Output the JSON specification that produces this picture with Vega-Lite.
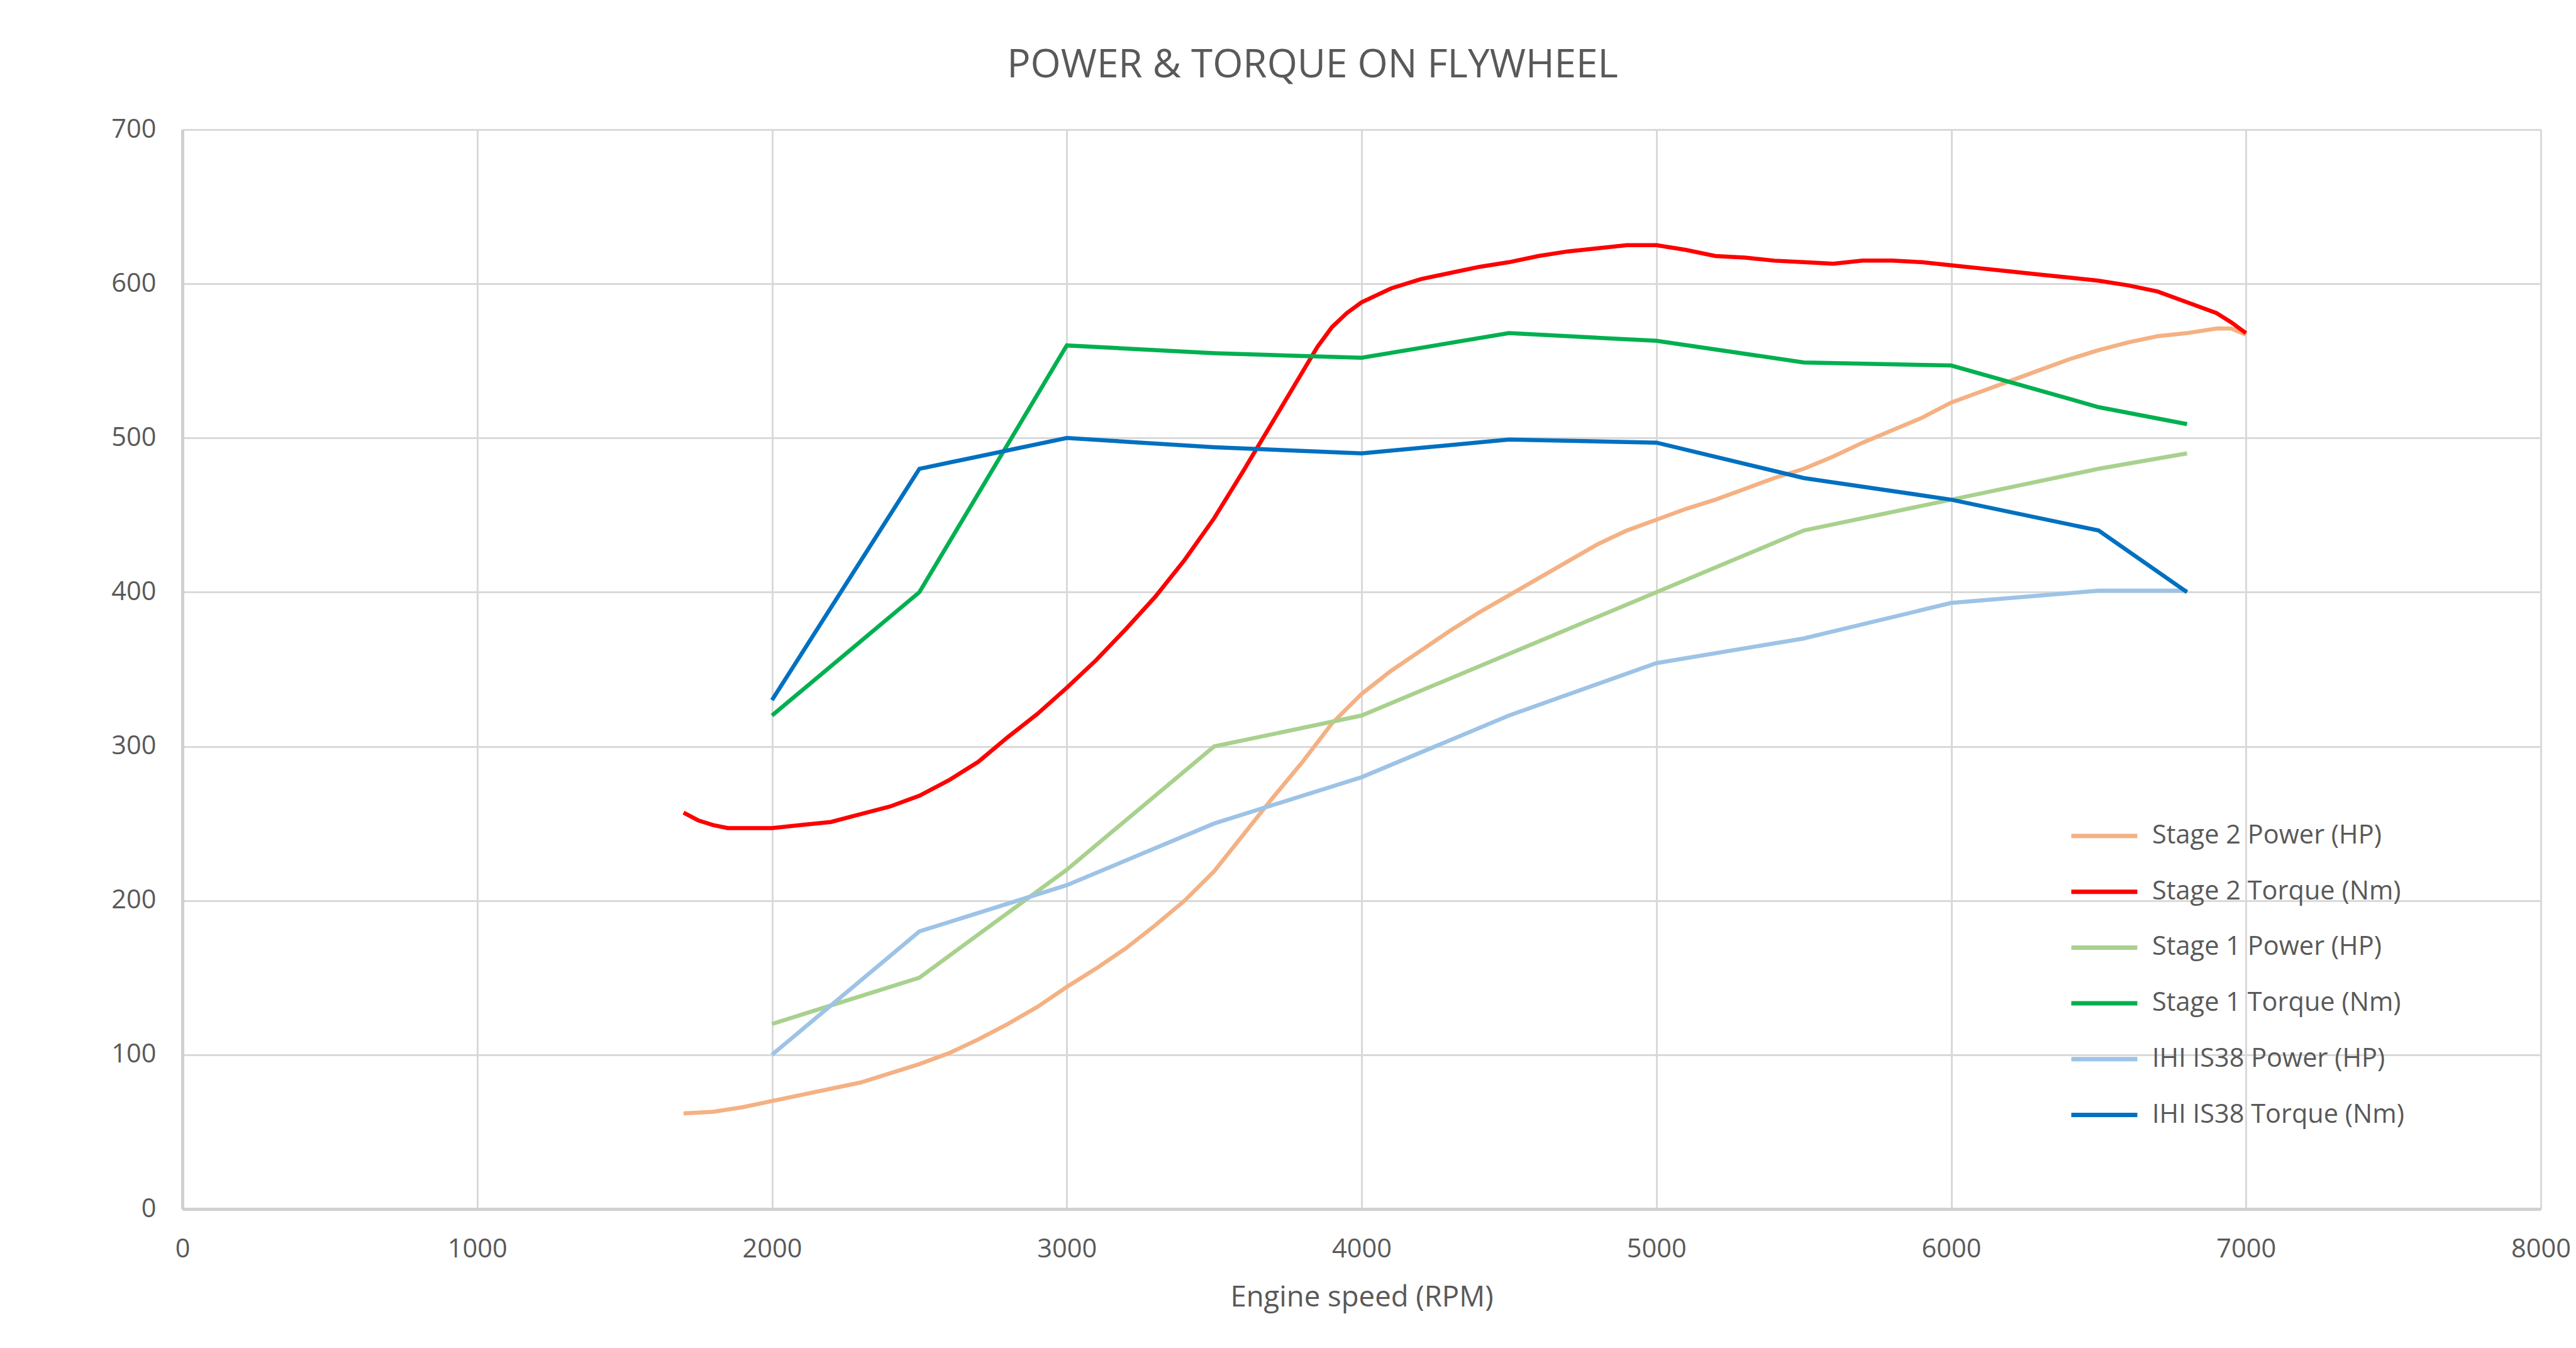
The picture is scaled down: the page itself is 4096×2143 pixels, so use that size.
{
  "$schema": "https://vega.github.io/schema/vega-lite/v6.json",
  "width": 3750,
  "height": 1716,
  "autosize": {"type": "none"},
  "padding": {"left": 290, "top": 206, "right": 56, "bottom": 221},
  "background": "white",
  "title": {
    "text": "POWER & TORQUE ON FLYWHEEL",
    "font": "Open Sans",
    "fontSize": 62,
    "fontWeight": "normal",
    "color": "#595959",
    "anchor": "middle",
    "dx": -78,
    "baseline": "middle",
    "offset": 19
  },
  "data": {
    "values": [
      {"series": "Stage 2 Power (HP)", "rpm": 1700, "value": 62},
      {"series": "Stage 2 Power (HP)", "rpm": 1800, "value": 63},
      {"series": "Stage 2 Power (HP)", "rpm": 1900, "value": 66},
      {"series": "Stage 2 Power (HP)", "rpm": 2000, "value": 70},
      {"series": "Stage 2 Power (HP)", "rpm": 2100, "value": 74},
      {"series": "Stage 2 Power (HP)", "rpm": 2200, "value": 78},
      {"series": "Stage 2 Power (HP)", "rpm": 2300, "value": 82},
      {"series": "Stage 2 Power (HP)", "rpm": 2400, "value": 88},
      {"series": "Stage 2 Power (HP)", "rpm": 2500, "value": 94},
      {"series": "Stage 2 Power (HP)", "rpm": 2600, "value": 101},
      {"series": "Stage 2 Power (HP)", "rpm": 2700, "value": 110},
      {"series": "Stage 2 Power (HP)", "rpm": 2800, "value": 120},
      {"series": "Stage 2 Power (HP)", "rpm": 2900, "value": 131},
      {"series": "Stage 2 Power (HP)", "rpm": 3000, "value": 144},
      {"series": "Stage 2 Power (HP)", "rpm": 3100, "value": 156},
      {"series": "Stage 2 Power (HP)", "rpm": 3200, "value": 169},
      {"series": "Stage 2 Power (HP)", "rpm": 3300, "value": 184},
      {"series": "Stage 2 Power (HP)", "rpm": 3400, "value": 200},
      {"series": "Stage 2 Power (HP)", "rpm": 3500, "value": 219},
      {"series": "Stage 2 Power (HP)", "rpm": 3600, "value": 243},
      {"series": "Stage 2 Power (HP)", "rpm": 3700, "value": 267},
      {"series": "Stage 2 Power (HP)", "rpm": 3800, "value": 290},
      {"series": "Stage 2 Power (HP)", "rpm": 3900, "value": 315},
      {"series": "Stage 2 Power (HP)", "rpm": 4000, "value": 334},
      {"series": "Stage 2 Power (HP)", "rpm": 4100, "value": 349},
      {"series": "Stage 2 Power (HP)", "rpm": 4200, "value": 362},
      {"series": "Stage 2 Power (HP)", "rpm": 4300, "value": 375},
      {"series": "Stage 2 Power (HP)", "rpm": 4400, "value": 387},
      {"series": "Stage 2 Power (HP)", "rpm": 4500, "value": 398},
      {"series": "Stage 2 Power (HP)", "rpm": 4600, "value": 409},
      {"series": "Stage 2 Power (HP)", "rpm": 4700, "value": 420},
      {"series": "Stage 2 Power (HP)", "rpm": 4800, "value": 431},
      {"series": "Stage 2 Power (HP)", "rpm": 4900, "value": 440},
      {"series": "Stage 2 Power (HP)", "rpm": 5000, "value": 447},
      {"series": "Stage 2 Power (HP)", "rpm": 5100, "value": 454},
      {"series": "Stage 2 Power (HP)", "rpm": 5200, "value": 460},
      {"series": "Stage 2 Power (HP)", "rpm": 5300, "value": 467},
      {"series": "Stage 2 Power (HP)", "rpm": 5400, "value": 474},
      {"series": "Stage 2 Power (HP)", "rpm": 5500, "value": 480},
      {"series": "Stage 2 Power (HP)", "rpm": 5600, "value": 488},
      {"series": "Stage 2 Power (HP)", "rpm": 5700, "value": 497},
      {"series": "Stage 2 Power (HP)", "rpm": 5800, "value": 505},
      {"series": "Stage 2 Power (HP)", "rpm": 5900, "value": 513},
      {"series": "Stage 2 Power (HP)", "rpm": 6000, "value": 523},
      {"series": "Stage 2 Power (HP)", "rpm": 6100, "value": 530},
      {"series": "Stage 2 Power (HP)", "rpm": 6200, "value": 537},
      {"series": "Stage 2 Power (HP)", "rpm": 6300, "value": 544},
      {"series": "Stage 2 Power (HP)", "rpm": 6400, "value": 551},
      {"series": "Stage 2 Power (HP)", "rpm": 6500, "value": 557},
      {"series": "Stage 2 Power (HP)", "rpm": 6600, "value": 562},
      {"series": "Stage 2 Power (HP)", "rpm": 6700, "value": 566},
      {"series": "Stage 2 Power (HP)", "rpm": 6800, "value": 568},
      {"series": "Stage 2 Power (HP)", "rpm": 6900, "value": 571},
      {"series": "Stage 2 Power (HP)", "rpm": 6950, "value": 571},
      {"series": "Stage 2 Power (HP)", "rpm": 7000, "value": 567},

      {"series": "Stage 2 Torque (Nm)", "rpm": 1700, "value": 257},
      {"series": "Stage 2 Torque (Nm)", "rpm": 1750, "value": 252},
      {"series": "Stage 2 Torque (Nm)", "rpm": 1800, "value": 249},
      {"series": "Stage 2 Torque (Nm)", "rpm": 1850, "value": 247},
      {"series": "Stage 2 Torque (Nm)", "rpm": 1900, "value": 247},
      {"series": "Stage 2 Torque (Nm)", "rpm": 2000, "value": 247},
      {"series": "Stage 2 Torque (Nm)", "rpm": 2100, "value": 249},
      {"series": "Stage 2 Torque (Nm)", "rpm": 2200, "value": 251},
      {"series": "Stage 2 Torque (Nm)", "rpm": 2300, "value": 256},
      {"series": "Stage 2 Torque (Nm)", "rpm": 2400, "value": 261},
      {"series": "Stage 2 Torque (Nm)", "rpm": 2500, "value": 268},
      {"series": "Stage 2 Torque (Nm)", "rpm": 2600, "value": 278},
      {"series": "Stage 2 Torque (Nm)", "rpm": 2700, "value": 290},
      {"series": "Stage 2 Torque (Nm)", "rpm": 2800, "value": 306},
      {"series": "Stage 2 Torque (Nm)", "rpm": 2900, "value": 321},
      {"series": "Stage 2 Torque (Nm)", "rpm": 3000, "value": 338},
      {"series": "Stage 2 Torque (Nm)", "rpm": 3100, "value": 356},
      {"series": "Stage 2 Torque (Nm)", "rpm": 3200, "value": 376},
      {"series": "Stage 2 Torque (Nm)", "rpm": 3300, "value": 397},
      {"series": "Stage 2 Torque (Nm)", "rpm": 3400, "value": 421},
      {"series": "Stage 2 Torque (Nm)", "rpm": 3500, "value": 448},
      {"series": "Stage 2 Torque (Nm)", "rpm": 3600, "value": 479},
      {"series": "Stage 2 Torque (Nm)", "rpm": 3700, "value": 511},
      {"series": "Stage 2 Torque (Nm)", "rpm": 3800, "value": 543},
      {"series": "Stage 2 Torque (Nm)", "rpm": 3850, "value": 559},
      {"series": "Stage 2 Torque (Nm)", "rpm": 3900, "value": 572},
      {"series": "Stage 2 Torque (Nm)", "rpm": 3950, "value": 581},
      {"series": "Stage 2 Torque (Nm)", "rpm": 4000, "value": 588},
      {"series": "Stage 2 Torque (Nm)", "rpm": 4100, "value": 597},
      {"series": "Stage 2 Torque (Nm)", "rpm": 4200, "value": 603},
      {"series": "Stage 2 Torque (Nm)", "rpm": 4300, "value": 607},
      {"series": "Stage 2 Torque (Nm)", "rpm": 4400, "value": 611},
      {"series": "Stage 2 Torque (Nm)", "rpm": 4500, "value": 614},
      {"series": "Stage 2 Torque (Nm)", "rpm": 4600, "value": 618},
      {"series": "Stage 2 Torque (Nm)", "rpm": 4700, "value": 621},
      {"series": "Stage 2 Torque (Nm)", "rpm": 4800, "value": 623},
      {"series": "Stage 2 Torque (Nm)", "rpm": 4900, "value": 625},
      {"series": "Stage 2 Torque (Nm)", "rpm": 5000, "value": 625},
      {"series": "Stage 2 Torque (Nm)", "rpm": 5100, "value": 622},
      {"series": "Stage 2 Torque (Nm)", "rpm": 5200, "value": 618},
      {"series": "Stage 2 Torque (Nm)", "rpm": 5300, "value": 617},
      {"series": "Stage 2 Torque (Nm)", "rpm": 5400, "value": 615},
      {"series": "Stage 2 Torque (Nm)", "rpm": 5500, "value": 614},
      {"series": "Stage 2 Torque (Nm)", "rpm": 5600, "value": 613},
      {"series": "Stage 2 Torque (Nm)", "rpm": 5700, "value": 615},
      {"series": "Stage 2 Torque (Nm)", "rpm": 5800, "value": 615},
      {"series": "Stage 2 Torque (Nm)", "rpm": 5900, "value": 614},
      {"series": "Stage 2 Torque (Nm)", "rpm": 6000, "value": 612},
      {"series": "Stage 2 Torque (Nm)", "rpm": 6100, "value": 610},
      {"series": "Stage 2 Torque (Nm)", "rpm": 6200, "value": 608},
      {"series": "Stage 2 Torque (Nm)", "rpm": 6300, "value": 606},
      {"series": "Stage 2 Torque (Nm)", "rpm": 6400, "value": 604},
      {"series": "Stage 2 Torque (Nm)", "rpm": 6500, "value": 602},
      {"series": "Stage 2 Torque (Nm)", "rpm": 6600, "value": 599},
      {"series": "Stage 2 Torque (Nm)", "rpm": 6700, "value": 595},
      {"series": "Stage 2 Torque (Nm)", "rpm": 6800, "value": 588},
      {"series": "Stage 2 Torque (Nm)", "rpm": 6900, "value": 581},
      {"series": "Stage 2 Torque (Nm)", "rpm": 6950, "value": 575},
      {"series": "Stage 2 Torque (Nm)", "rpm": 7000, "value": 568},

      {"series": "Stage 1 Power (HP)", "rpm": 2000, "value": 120},
      {"series": "Stage 1 Power (HP)", "rpm": 2500, "value": 150},
      {"series": "Stage 1 Power (HP)", "rpm": 3000, "value": 220},
      {"series": "Stage 1 Power (HP)", "rpm": 3500, "value": 300},
      {"series": "Stage 1 Power (HP)", "rpm": 4000, "value": 320},
      {"series": "Stage 1 Power (HP)", "rpm": 4500, "value": 360},
      {"series": "Stage 1 Power (HP)", "rpm": 5000, "value": 400},
      {"series": "Stage 1 Power (HP)", "rpm": 5500, "value": 440},
      {"series": "Stage 1 Power (HP)", "rpm": 6000, "value": 460},
      {"series": "Stage 1 Power (HP)", "rpm": 6500, "value": 480},
      {"series": "Stage 1 Power (HP)", "rpm": 6800, "value": 490},

      {"series": "Stage 1 Torque (Nm)", "rpm": 2000, "value": 320},
      {"series": "Stage 1 Torque (Nm)", "rpm": 2500, "value": 400},
      {"series": "Stage 1 Torque (Nm)", "rpm": 3000, "value": 560},
      {"series": "Stage 1 Torque (Nm)", "rpm": 3500, "value": 555},
      {"series": "Stage 1 Torque (Nm)", "rpm": 4000, "value": 552},
      {"series": "Stage 1 Torque (Nm)", "rpm": 4500, "value": 568},
      {"series": "Stage 1 Torque (Nm)", "rpm": 5000, "value": 563},
      {"series": "Stage 1 Torque (Nm)", "rpm": 5500, "value": 549},
      {"series": "Stage 1 Torque (Nm)", "rpm": 6000, "value": 547},
      {"series": "Stage 1 Torque (Nm)", "rpm": 6500, "value": 520},
      {"series": "Stage 1 Torque (Nm)", "rpm": 6800, "value": 509},

      {"series": "IHI IS38 Power (HP)", "rpm": 2000, "value": 100},
      {"series": "IHI IS38 Power (HP)", "rpm": 2500, "value": 180},
      {"series": "IHI IS38 Power (HP)", "rpm": 3000, "value": 210},
      {"series": "IHI IS38 Power (HP)", "rpm": 3500, "value": 250},
      {"series": "IHI IS38 Power (HP)", "rpm": 4000, "value": 280},
      {"series": "IHI IS38 Power (HP)", "rpm": 4500, "value": 320},
      {"series": "IHI IS38 Power (HP)", "rpm": 5000, "value": 354},
      {"series": "IHI IS38 Power (HP)", "rpm": 5500, "value": 370},
      {"series": "IHI IS38 Power (HP)", "rpm": 6000, "value": 393},
      {"series": "IHI IS38 Power (HP)", "rpm": 6500, "value": 401},
      {"series": "IHI IS38 Power (HP)", "rpm": 6800, "value": 401},

      {"series": "IHI IS38 Torque (Nm)", "rpm": 2000, "value": 330},
      {"series": "IHI IS38 Torque (Nm)", "rpm": 2500, "value": 480},
      {"series": "IHI IS38 Torque (Nm)", "rpm": 3000, "value": 500},
      {"series": "IHI IS38 Torque (Nm)", "rpm": 3500, "value": 494},
      {"series": "IHI IS38 Torque (Nm)", "rpm": 4000, "value": 490},
      {"series": "IHI IS38 Torque (Nm)", "rpm": 4500, "value": 499},
      {"series": "IHI IS38 Torque (Nm)", "rpm": 5000, "value": 497},
      {"series": "IHI IS38 Torque (Nm)", "rpm": 5500, "value": 474},
      {"series": "IHI IS38 Torque (Nm)", "rpm": 6000, "value": 460},
      {"series": "IHI IS38 Torque (Nm)", "rpm": 6500, "value": 440},
      {"series": "IHI IS38 Torque (Nm)", "rpm": 6800, "value": 400}
    ]
  },
  "mark": {"type": "line", "strokeWidth": 6.5, "clip": false},
  "encoding": {
    "x": {
      "field": "rpm",
      "type": "quantitative",
      "scale": {"domain": [0, 8000], "nice": false},
      "axis": {
        "values": [0, 1000, 2000, 3000, 4000, 5000, 6000, 7000, 8000],
        "format": "d",
        "title": "Engine speed (RPM)",
        "titleFont": "Open Sans",
        "titleFontSize": 45.5,
        "titleFontWeight": "normal",
        "titleColor": "#595959",
        "titleBaseline": "middle",
        "titleY": 140,
        "labelFont": "Open Sans",
        "labelFontSize": 41.5,
        "labelColor": "#595959",
        "labelPadding": 43,
        "labelFlush": false,
        "labelOverlap": false,
        "ticks": false,
        "domainColor": "#d0d0d0",
        "domainWidth": 5,
        "gridColor": "#d9d9d9",
        "gridWidth": 3
      }
    },
    "y": {
      "field": "value",
      "type": "quantitative",
      "scale": {"domain": [0, 700], "nice": false},
      "axis": {
        "values": [0, 100, 200, 300, 400, 500, 600, 700],
        "title": null,
        "labelFont": "Open Sans",
        "labelFontSize": 41.5,
        "labelColor": "#595959",
        "labelPadding": 42,
        "labelFlush": false,
        "labelOverlap": false,
        "ticks": false,
        "domainColor": "#d0d0d0",
        "domainWidth": 5,
        "gridColor": "#d9d9d9",
        "gridWidth": 3
      }
    },
    "color": {
      "field": "series",
      "type": "nominal",
      "sort": ["Stage 2 Power (HP)", "Stage 2 Torque (Nm)", "Stage 1 Power (HP)", "Stage 1 Torque (Nm)", "IHI IS38 Power (HP)", "IHI IS38 Torque (Nm)"],
      "scale": {
        "domain": ["Stage 2 Power (HP)", "Stage 2 Torque (Nm)", "Stage 1 Power (HP)", "Stage 1 Torque (Nm)", "IHI IS38 Power (HP)", "IHI IS38 Torque (Nm)"],
        "range": ["#f4b183", "#ff0000", "#a9d18e", "#00b050", "#9dc3e6", "#0070c0"]
      },
      "legend": {
        "title": null,
        "orient": "none",
        "legendX": 3000,
        "legendY": 1067,
        "symbolType": "stroke",
        "symbolSize": 11025,
        "symbolStrokeWidth": 7,
        "labelFont": "Open Sans",
        "labelFontSize": 41.5,
        "labelColor": "#595959",
        "labelLimit": 1000,
        "labelOffset": 20,
        "rowPadding": 11.7,
        "padding": 0
      }
    }
  },
  "config": {
    "view": {"stroke": null},
    "font": "Open Sans"
  }
}
